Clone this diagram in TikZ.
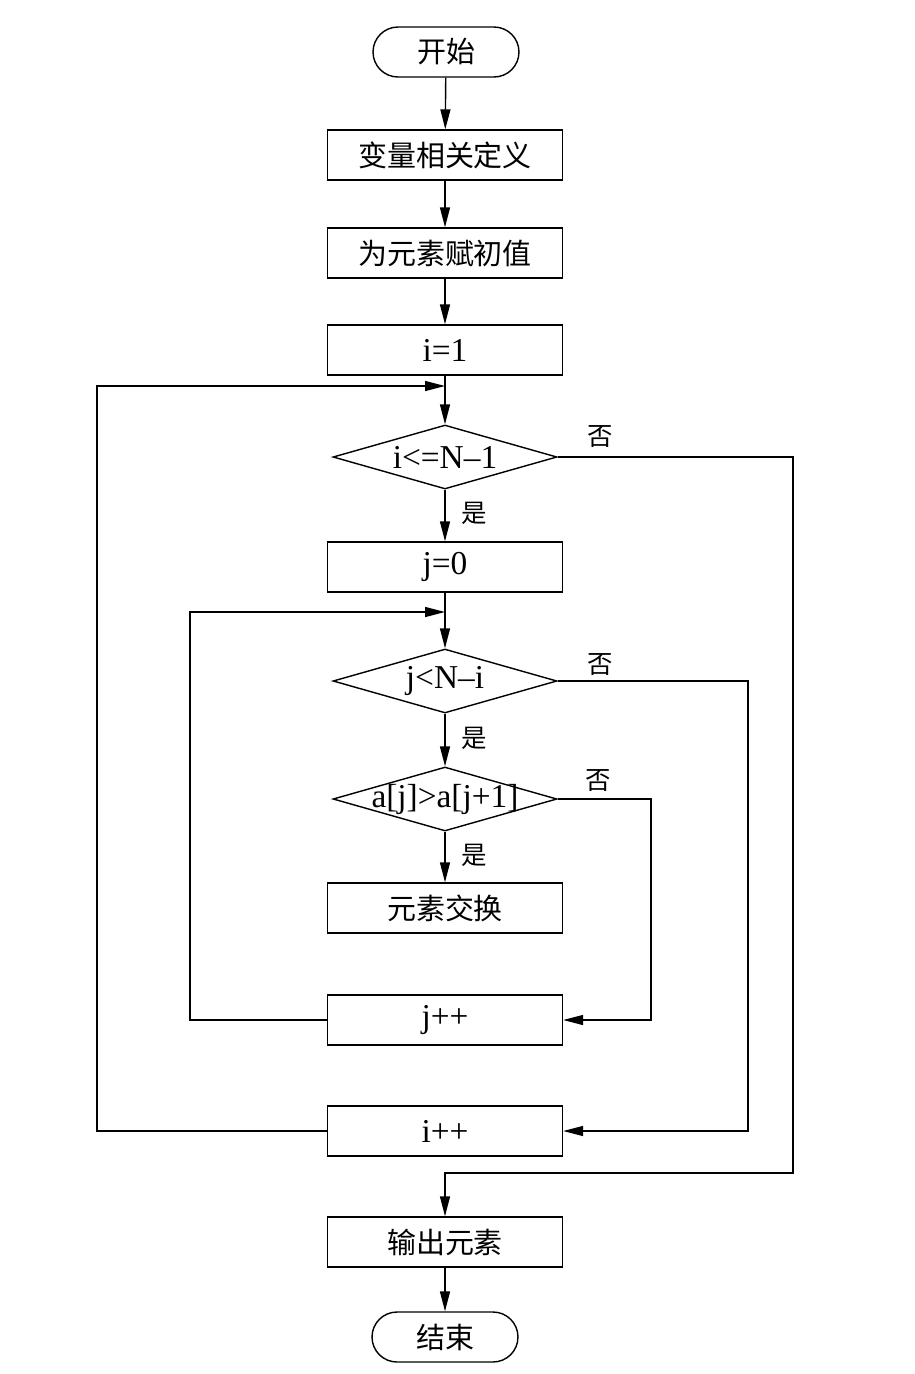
\documentclass[tikz,border=0pt]{standalone}
\usepackage{fontspec}
\setmainfont{Liberation Serif}
\newfontfamily\cjk{Noto Sans CJK SC}
\usetikzlibrary{shapes.geometric,arrows.meta}

\newcommand{\zh}[1]{{\cjk\fontsize{16.5}{20}\selectfont #1}}
\newcommand{\cond}[1]{\makebox[0pt]{#1}}

\tikzset{
  process/.style={draw, line width=0.8pt, minimum width=4.7cm, minimum height=1cm, inner sep=0pt},
  decision/.style={draw, diamond, line width=0.8pt, minimum width=4.48cm, minimum height=1.28cm, inner sep=0pt},
  terminal/.style={draw, line width=0.8pt, rounded corners=0.5cm, minimum width=2.92cm, minimum height=1cm, inner sep=0pt},
  flow/.style={line width=0.8pt, -{Triangle[length=4mm,width=2mm]}},
  answer/.style={inner sep=0pt, font=\cjk\fontsize{14.5}{17}\selectfont},
}

\begin{document}
\begin{tikzpicture}[x={0.02cm}, y={-0.02cm}, font=\fontsize{19}{22}\selectfont]

\useasboundingbox (0,0) rectangle (915,1374);

% STEP 1: Start, definitions and the outer counter.
\node[terminal] (start) at (446,52) {\zh{开始}};
\node[process] (b1) at (445,155) {\zh{变量相关定义}};
\node[process] (b2) at (445,253) {\zh{为元素赋初值}};
\node[process] (b3) at (445,350) {i=1};

% STEP 2: Outer test and the inner counter.
\node[decision] (d1) at (445,457) {\cond{i<=N–1}};
\node[process] (j0) at (445,567) {j=0};

% STEP 3: Inner test, comparison and swap.
\node[decision] (d2) at (445,681) {\cond{j<N–i}};
\node[decision] (d3) at (445,799) {\cond{a[j]>a[j+1]}};
\node[process] (swap) at (445,908) {\zh{元素交换}};

% STEP 4: Increments, output and end.
\node[process] (jpp) at (445,1020) {j++};
\node[process] (ipp) at (445,1131) {i++};
\node[process] (out) at (445,1242) {\zh{输出元素}};
\node[terminal] (end) at (445,1337) {\zh{结束}};

% Yes / No labels
\node[answer] (yes1) at (474,513) {是};
\node[answer] (yes2) at (474,738) {是};
\node[answer] (yes3) at (474,855) {是};
\node[answer] (no1) at (600,437) {否};
\node[answer] (no2) at (600,665) {否};
\node[answer] (no3) at (598,781) {否};

% Helper points for the loop lines.
\coordinate (m1) at (445,386);
\coordinate (m2) at (445,612);
\coordinate (outerleft) at (97,386);
\coordinate (innerleft) at (190,612);
\coordinate (noright1) at (793,1173);
\coordinate (noright2) at (748,681);
\coordinate (noright3) at (651,799);

% STEP 5: Main flow.
\draw[flow] (start) -- (b1);
\draw[flow] (b1) -- (b2);
\draw[flow] (b2) -- (b3);
\draw[flow] (b3) -- (d1);
\draw[flow] (d1) -- (j0);
\draw[flow] (j0) -- (d2);
\draw[flow] (d2) -- (d3);
\draw[flow] (d3) -- (swap);
\draw[flow] (out) -- (end);

% STEP 6: Loops back and the "no" branches.
\draw[flow] (ipp.west) -| (outerleft) -- (m1);
\draw[flow] (jpp.west) -| (innerleft) -- (m2);
\draw[flow] (d1.east) -| (noright1) -| (out.north);
\draw[flow] (d2.east) -- (noright2) |- (ipp.east);
\draw[flow] (d3.east) -- (noright3) |- (jpp.east);

\end{tikzpicture}
\end{document}
